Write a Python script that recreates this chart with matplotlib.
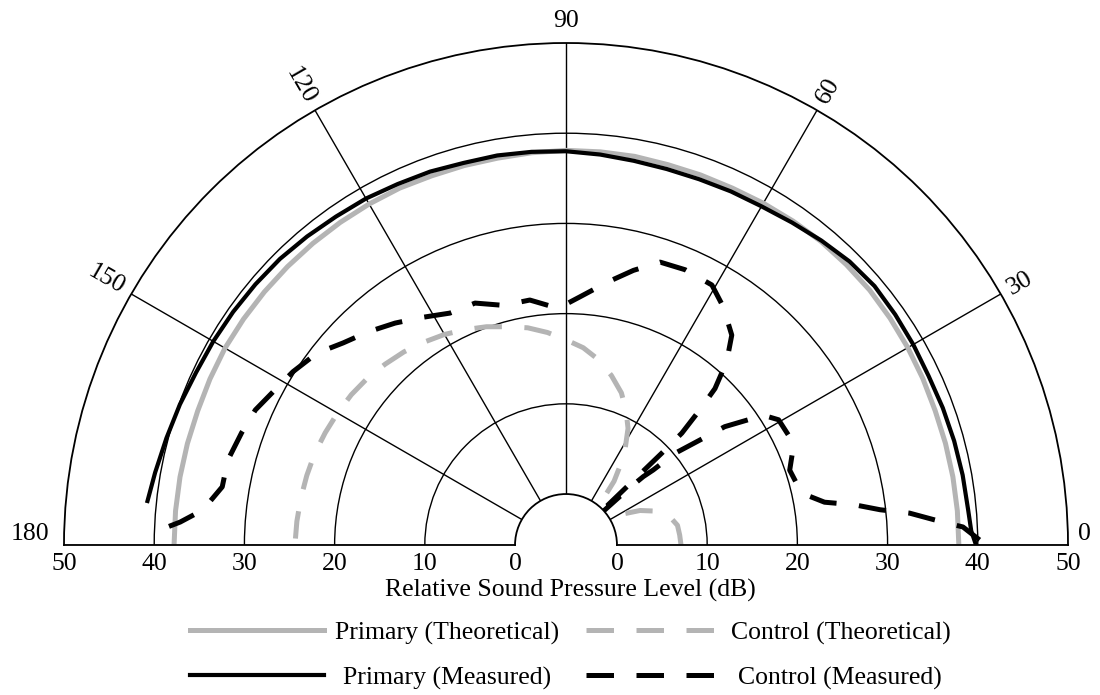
import numpy as np
import matplotlib
matplotlib.use('Agg')
import matplotlib.pyplot as plt
from matplotlib.transforms import offset_copy

plt.rcParams['font.family'] = ['Liberation Serif', 'DejaVu Serif']
plt.rcParams['font.size'] = 18.5

# primary source, theoretical directivity (deg, dB)
prim_th_deg = [0, 5, 10, 15, 20, 25, 30, 35, 40, 45, 50, 55, 60, 65, 70, 75, 80, 85, 90,
               95, 100, 105, 110, 115, 120, 125, 130, 135, 140, 145, 150, 155, 160, 165,
               170, 175, 180]
prim_th_db = [37.9, 37.9, 37.9, 37.9, 37.9, 38.0, 38.1, 38.2, 38.3, 38.3, 38.3, 38.2, 38.1,
              38.0, 38.0, 38.0, 38.1, 38.1, 38.1, 38.0, 37.9, 37.9, 37.9, 38.0, 38.0, 38.0,
              38.0, 38.0, 38.0, 38.0, 38.0, 37.9, 37.8, 37.8, 37.8, 37.8, 37.8]

# primary source, measured
prim_ms_deg = [0, 2, 5, 10, 15, 20, 25, 30, 35, 40, 45, 50, 55, 60, 65, 70, 75, 80, 85, 90,
               95, 100, 105, 110, 115, 120, 125, 130, 135, 140, 145, 150, 155, 160, 165,
               170, 174]
prim_ms_db = [39.8, 39.3, 39.1, 39.0, 38.9, 38.8, 38.7, 38.8, 38.9, 39.0, 38.8, 38.4, 38.0,
              37.7, 37.6, 37.5, 37.5, 37.6, 37.8, 38.0, 38.1, 38.2, 38.2, 38.4, 38.5, 38.7,
              38.8, 39.0, 39.2, 39.3, 39.4, 39.5, 39.6, 39.9, 40.2, 40.6, 41.0]

# control source, theoretical
ctrl_th_deg = [0, 5, 10, 15, 20, 25, 30, 35, 40, 45, 50, 53, 57, 62, 66, 70, 75, 80, 85, 90,
               95, 100, 105, 110, 115, 120, 125, 130, 135, 140, 145, 150, 155, 160, 165,
               170, 175, 180]
ctrl_th_db = [7.1, 7.0, 6.9, 6.3, 5.3, 3.4, 1.0, -2.0, -5.0, -4.0, 0.0, 3.2, 6.2, 9.0, 10.7,
              12.3, 13.8, 15.2, 16.3, 17.1, 18.0, 18.8, 19.4, 20.1, 20.7, 21.3, 21.8, 22.3,
              22.7, 23.1, 23.4, 23.6, 23.8, 24.0, 24.1, 24.2, 24.3, 24.4]

# control source, measured
ctrl_ms_deg = [0.7, 2.6, 3.9, 5.3, 6.4, 7.9, 9.4, 12.4, 18.5, 24.0, 30.5, 33.4, 34.1, 36.7,
               38.1, 40.1, 40.7, 41.5, 42.0, 42.8, 43.8, 44.0, 45.2, 46.4, 48.8, 51.7, 56.6,
               60.7, 66.6, 71.6, 76.2, 80.9, 86.8, 91.9, 98.4, 104.6, 110.6, 116.6, 122.3,
               127.6, 132.9, 137.8, 142.4, 147.6, 151.9, 156.5, 160.9, 165.9, 170.4, 174.5,
               176.6, 178.3]
ctrl_ms_db = [40.2, 38.4, 35.3, 32.6, 29.4, 26.7, 23.4, 21.1, 20.5, 22.0, 21.7, 20.5, 19.4,
              16.3, 13.2, 10.1, 7.1, 5.8, 3.6, -4.0, 9.0, 12.2, 15.2, 18.3, 21.4, 24.0, 26.0,
              27.4, 27.6, 27.4, 25.7, 23.9, 21.9, 20.6, 21.8, 21.8, 23.0, 23.1, 24.2, 25.4,
              26.6, 27.7, 29.2, 30.2, 30.9, 31.9, 32.4, 33.0, 33.0, 34.8, 37.2, 40.2]

theta_ticks = [0, 30, 60, 90, 120, 150, 180]
r_grid = [10, 20, 30, 40]
r_ticks = [0, 10, 20, 30, 40, 50]

grey = '#b4b4b4'
dash = (0, (5.5, 4.5))

fig = plt.figure(figsize=(11, 6.95), dpi=100)
# square box; the half-disc gets centred in it, so the box hangs below the figure
ax = fig.add_axes([64 / 1100, -101 / 695, 1004 / 1100, 1004 / 695], projection='polar')

l1, = ax.plot(np.deg2rad(prim_th_deg), prim_th_db, color=grey, lw=3.6, label='Primary (Theoretical)')
l2, = ax.plot(np.deg2rad(prim_ms_deg), prim_ms_db, color='black', lw=3.0, label='Primary (Measured)')
l3, = ax.plot(np.deg2rad(ctrl_th_deg), ctrl_th_db, color=grey, lw=3.6, ls=dash,
              label='Control (Theoretical)')
l4, = ax.plot(np.deg2rad(ctrl_ms_deg), ctrl_ms_db, color='black', lw=3.6, ls=dash,
              label='Control (Measured)')

ax.set_thetamin(0)
ax.set_thetamax(180)
ax.set_rlim(0, 50)
ax.set_rorigin(-5.65)

ax.set_xticks(np.deg2rad(theta_ticks))
ax.set_xticklabels([])
ax.set_yticks(r_grid)
ax.set_yticklabels([])
ax.tick_params(length=0)
ax.grid(True, color='black', lw=1.0)
for sp in ax.spines.values():
    sp.set_color('black')
    sp.set_linewidth(1.3)

# angle labels just outside the outer arc
for t in theta_ticks:
    th = np.deg2rad(t)
    if t == 0:
        ax.text(th, 51.1, str(t), ha='left', va='bottom')
    elif t == 180:
        ax.text(th, 51.6, str(t), ha='right', va='bottom')
    elif t == 90:
        ax.text(th, 51.2, str(t), ha='center', va='bottom')
    elif t < 90:
        ax.text(th, 51.0, str(t), ha='left', va='center', rotation=t, rotation_mode='anchor')
    else:
        ax.text(th, 51.0, str(t), ha='right', va='center', rotation=t - 180,
                rotation_mode='anchor')

# dB scale along the baseline on both sides
below = offset_copy(ax.transData, fig=fig, y=-8, units='dots')
for r in r_ticks:
    ax.text(0, r, str(r), transform=below, ha='center', va='top')
    ax.text(np.pi, r, str(r), transform=below, ha='center', va='top')

fig.text(570 / 1100, 1 - 590 / 695, 'Relative Sound Pressure Level (dB)', ha='center', va='center')

# one legend per row so the labels sit centred in their columns
fig.legend(handles=[l1, l3], loc='center left', bbox_to_anchor=(190 / 1100, 1 - 633 / 695),
           ncol=2, frameon=False, borderpad=0, borderaxespad=0, handlelength=5.2,
           handletextpad=0.45, columnspacing=1.05)
fig.legend(handles=[l2, l4], loc='center left', bbox_to_anchor=(190 / 1100, 1 - 678 / 695),
           ncol=2, frameon=False, borderpad=0, borderaxespad=0, handlelength=5.2,
           handletextpad=0.74, columnspacing=1.36)

fig.savefig('out.png', dpi=100)
